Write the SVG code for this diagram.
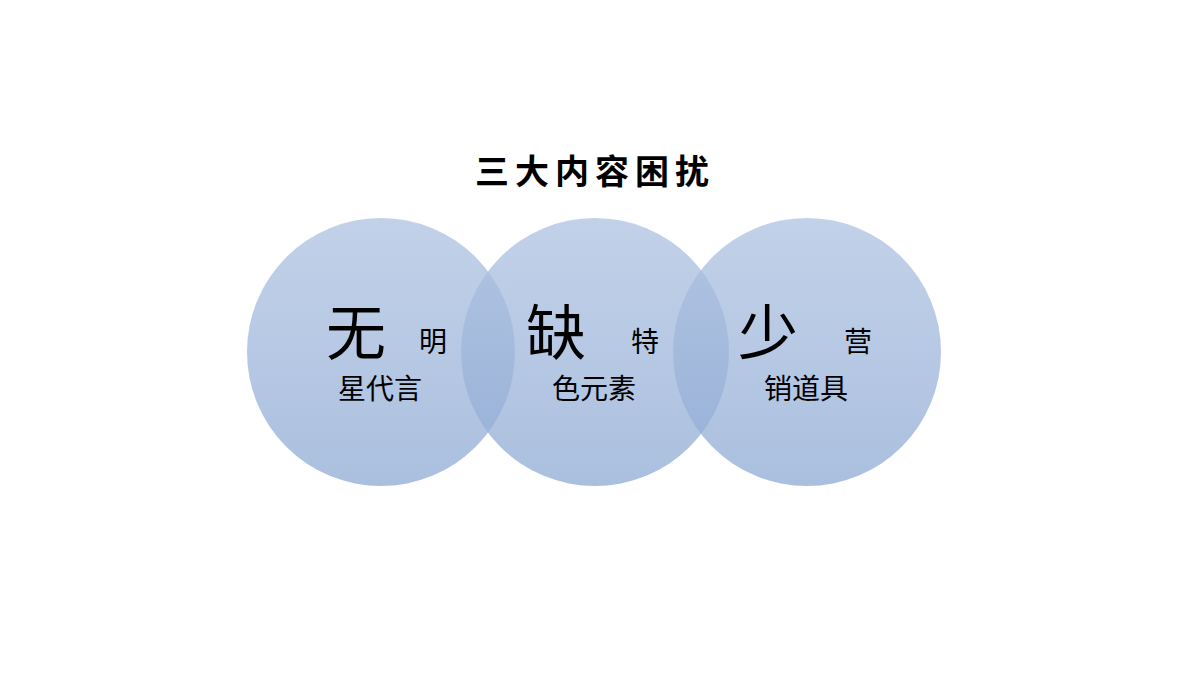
<svg xmlns="http://www.w3.org/2000/svg" width="1200" height="675" viewBox="0 0 1200 675">
<defs>
<linearGradient id="g" x1="0" y1="0" x2="0" y2="1">
<stop offset="0" stop-color="#aec2e1"/>
<stop offset="1" stop-color="#8eaad4"/>
</linearGradient>
<style>
.c{fill:url(#g);opacity:0.75}
.t{font-family:"Noto Sans CJK SC",sans-serif;fill:#000}
.big{font-size:60px}
.sm{font-size:28px}
</style>
</defs>
<rect width="1200" height="675" fill="#fff"/>
<text class="t" x="595" y="184" text-anchor="middle" font-size="34" font-weight="bold" letter-spacing="6">三大内容困扰</text>
<g id="n1"><circle class="c" cx="381" cy="352" r="134"/>
<text class="t big" x="356" y="355" text-anchor="middle">无</text>
<text class="t sm" x="433" y="352" text-anchor="middle">明</text>
<text class="t sm" x="380" y="399" text-anchor="middle">星代言</text></g>
<g id="n2"><circle class="c" cx="595" cy="352" r="134"/>
<text class="t big" x="556" y="355" text-anchor="middle">缺</text>
<text class="t sm" x="645" y="352" text-anchor="middle">特</text>
<text class="t sm" x="594" y="399" text-anchor="middle">色元素</text></g>
<g id="n3"><circle class="c" cx="807" cy="352" r="134"/>
<text class="t big" x="768" y="355" text-anchor="middle">少</text>
<text class="t sm" x="858" y="352" text-anchor="middle">营</text>
<text class="t sm" x="806" y="399" text-anchor="middle">销道具</text></g>
<g id="connectors"/>
</svg>
